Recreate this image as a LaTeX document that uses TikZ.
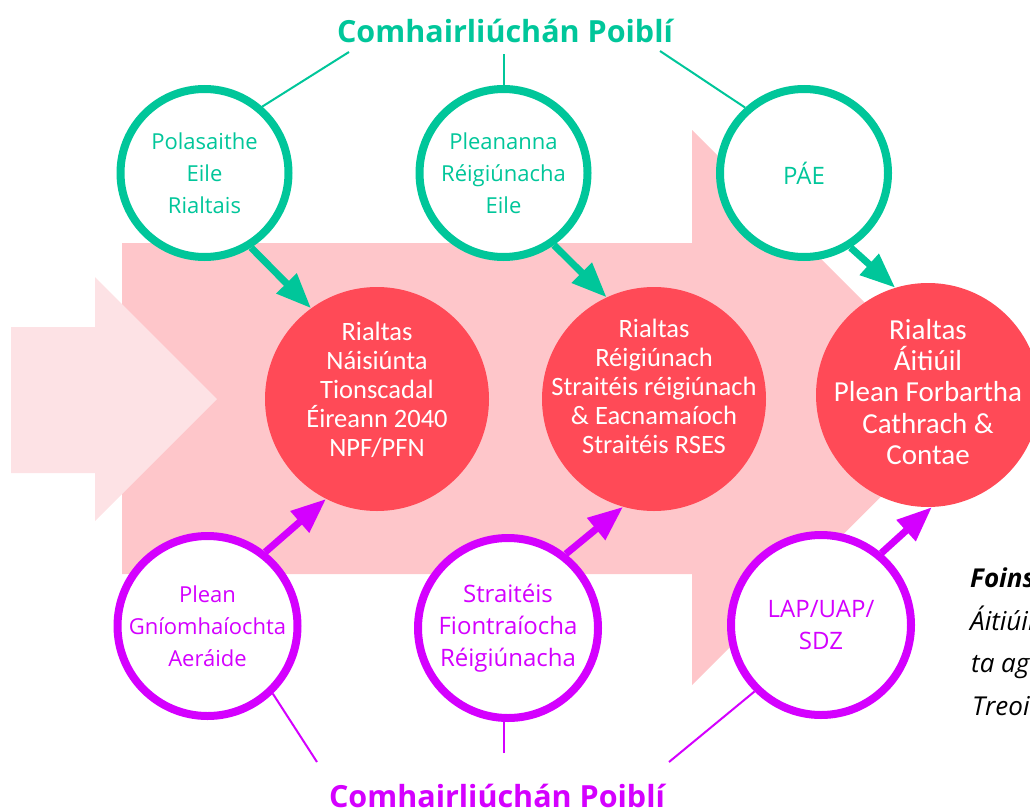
\documentclass[tikz,border=0pt]{standalone}
\usepackage{fontspec}
\setmainfont{Open Sans}
\newfontfamily\calibrifont{Carlito}
\usetikzlibrary{arrows.meta}
\definecolor{consultgreen}{HTML}{00C69A}
\definecolor{consultpurple}{HTML}{D400FF}
\definecolor{govred}{HTML}{FF4A57}
\definecolor{flowpink}{HTML}{FEC6CA}
\definecolor{palepink}{HTML}{FDE2E5}
\tikzset{
  greenring/.style={circle,draw=consultgreen,line width=8pt,fill=white,minimum size=168pt,inner sep=0pt,align=center,text=consultgreen,font=\fontsize{22}{32}\selectfont},
  purplering/.style={circle,draw=consultpurple,line width=8pt,fill=white,minimum size=180pt,inner sep=0pt,align=center,text=consultpurple,font=\fontsize{22}{32}\selectfont},
  redball/.style={circle,fill=govred,minimum size=224pt,inner sep=0pt},
  redtext/.style={align=center,text=white,inner sep=0pt,font=\calibrifont\fontsize{26.5}{29}\selectfont},
  greenarrow/.style={draw=consultgreen,line width=7pt,-{Triangle[length=35pt,width=27pt]}},
  purplearrow/.style={draw=consultpurple,line width=7pt,-{Triangle[length=35pt,width=27pt]}},
  greenline/.style={draw=consultgreen,line width=2pt},
  purpleline/.style={draw=consultpurple,line width=2pt},
  heading/.style={anchor=base,inner sep=0pt,font=\bfseries\fontsize{30.5}{34}\selectfont},
  sidenote/.style={anchor=base west,inner sep=0pt,font=\itshape\fontsize{26}{30}\selectfont}
}
\begin{document}
\begin{tikzpicture}[x=1pt,y=-1pt]
  \useasboundingbox (0,0) rectangle (1030,811);
  \fill[flowpink] (122,243) -- (692,243) -- (692,130) -- (970,408) -- (692,685) -- (692,574) -- (122,574) -- cycle;
  \fill[palepink] (11,327) -- (95,327) -- (95,277) -- (217,399) -- (95,521) -- (95,473) -- (11,473) -- cycle;

  \node[redball] (naisiunta) at (377,399) {};
  \node[redball] (reigiunach) at (654,399) {};
  \node[redball] (aitiuil) at (928,395) {};
  \node[redtext] (naisiuntatxt) at ([yshift=9pt]naisiunta.center) {Rialtas\\Náisiúnta\\Tionscadal\\Éireann 2040\\NPF/PFN};
  \node[redtext] (reigiunachtxt) at ([yshift=13pt]reigiunach.center) {Rialtas\\Réigiúnach\\Straitéis réigiúnach\\\& Eacnamaíoch\\Straitéis RSES};
  \node[redtext,font=\calibrifont\fontsize{29}{31.25}\selectfont] (aitiuiltxt) at ([yshift=3pt]aitiuil.center) {Rialtas\\Áitiúil\\Plean Forbartha\\Cathrach \&\\Contae};

  \node[greenring] (polasaithe) at (204.5,173) {Polasaithe\\Eile\\Rialtais};
  \node[greenring] (pleananna) at (503.5,173) {Pleananna\\Réigiúnacha\\Eile};
  \node[greenring,font=\fontsize{24}{30}\selectfont] (pae) at (804,173) {PÁE};

  \node[purplering] (aeraide) at (207.5,626) {Plean\\Gníomhaíochta\\Aeráide};
  \node[purplering,font=\fontsize{24}{32}\selectfont] (fiontraiocha) at (508,628) {Straitéis\\Fiontraíocha\\Réigiúnacha};
  \node[purplering,font=\fontsize{24}{32}\selectfont] (lap) at (821,625) {LAP/UAP/\\SDZ};

  \draw[greenarrow] (polasaithe.-58) -- (naisiunta.126);
  \draw[greenarrow] (pleananna.-55) -- (reigiunach.115);
  \draw[greenarrow] (pae.-58) -- (aitiuil.107);
  \draw[purplearrow] (aeraide.52) -- (naisiunta.-117);
  \draw[purplearrow] (fiontraiocha.52) -- (reigiunach.-106);
  \draw[purplearrow] (lap.50) -- (aitiuil.-88);

  \node[heading,text=consultgreen] (topheading) at (505,42) {Comhairliúchán Poiblí};
  \node[heading,text=consultpurple] (bottomheading) at (497,807) {Comhairliúchán Poiblí};
  \coordinate (topa) at (349,52);
  \coordinate (topb) at (504,54);
  \coordinate (topc) at (660,51);
  \draw[greenline] (topa) -- (polasaithe.49);
  \draw[greenline] (topb) -- (topb |- pleananna.north);
  \draw[greenline] (topc) -- (pae.132);
  \coordinate (bota) at (317,762);
  \coordinate (botb) at (504,753);
  \coordinate (botc) at (669,762);
  \draw[purpleline] (bota) -- (aeraide.-46);
  \draw[purpleline] (botb) -- (botb |- fiontraiocha.south);
  \draw[purpleline] (botc) -- (lap.-135);

  \node[sidenote,font=\bfseries\itshape\fontsize{26}{30}\selectfont] (foinse) at (970,587) {Foinse:};
  \node[sidenote] (note1) at (970,630) {Áitiúil};
  \node[sidenote] (note2) at (971,672) {ta ag};
  \node[sidenote] (note3) at (972,715) {Treoir};
\end{tikzpicture}
\end{document}
